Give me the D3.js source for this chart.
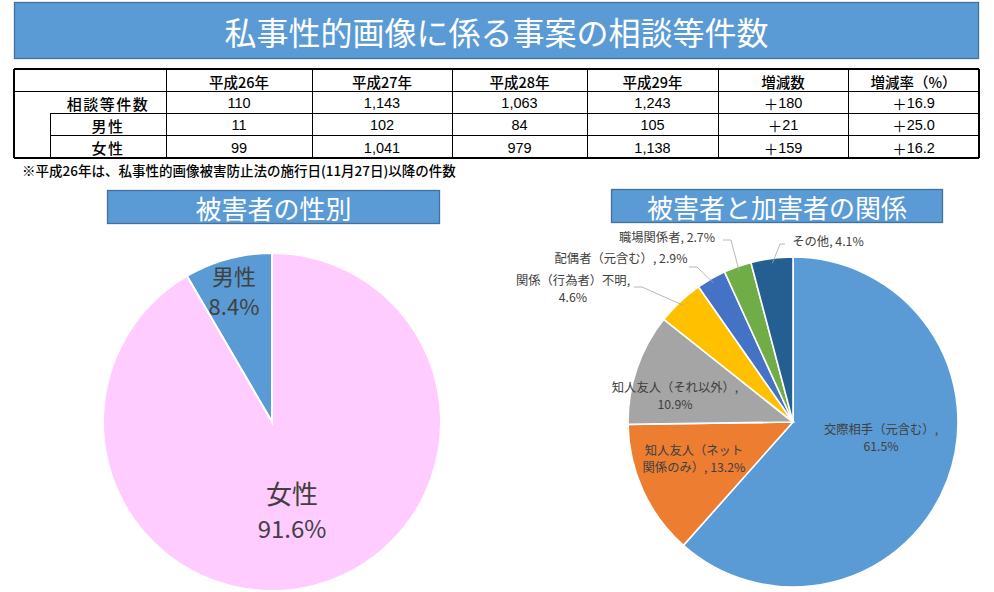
<!DOCTYPE html>
<html><head><meta charset="utf-8">
<script src="https://cdn.jsdelivr.net/npm/d3@7"></script>
<style>
body{margin:0;background:#fff;}
svg text{font-family:"Noto Sans CJK JP","Noto Sans",sans-serif;}
</style></head>
<body>
<svg id="chart" width="994" height="592"></svg>
<script>
// ---- data ----
const years = ["平成26年","平成27年","平成28年","平成29年"];
const extraHeaders = ["増減数","増減率（%）"];
const rowLabels = ["相談等件数","男性","女性"];
const totalCounts = [110,1143,1063,1243];
const maleCounts = [11,102,84,105];
const femaleCounts = [99,1041,979,1138];
const changeCounts = ["＋180","＋21","＋159"];
const changeRates = ["＋16.9","＋25.0","＋16.2"];

const genderCats = ["男性","女性"];
const genderVals = [8.4, 91.6];

const relCats = ["交際相手（元含む）","知人友人（ネット関係のみ）","知人友人（それ以外）","関係（行為者）不明","配偶者（元含む）","職場関係者","その他"];
const relVals = [61.5, 13.2, 10.9, 4.6, 2.9, 2.7, 4.1];

const svg = d3.select("#chart");
const fmt = d3.format(",");

// ---- banners ----
function banner(x, y, w, h, text, size){
  svg.append("rect").attr("x",x).attr("y",y).attr("width",w).attr("height",h)
    .attr("fill","#5B9BD5").attr("stroke","#41719C").attr("stroke-width",1.3);
  svg.append("text").attr("x",x+w/2).attr("y",y+h/2).attr("text-anchor","middle")
    .attr("dominant-baseline","central").attr("fill","#fff").attr("font-size",size).text(text);
}
banner(14.5, 2.5, 964, 56, "私事性的画像に係る事案の相談等件数", 32);
banner(107.5, 190.5, 332, 33, "被害者の性別", 26);
banner(611.5, 189.5, 331, 33, "被害者と加害者の関係", 26);

// ---- table ----
const colX = [14, 166, 312, 452, 587, 718, 848, 979];
const rowY = [69, 91, 113, 135, 158];
const subX = 50;
const tg = svg.append("g");
const line = (x1,y1,x2,y2,w)=>tg.append("line").attr("x1",x1).attr("y1",y1).attr("x2",x2).attr("y2",y2)
   .attr("stroke","#000").attr("stroke-width",w||1).attr("shape-rendering","crispEdges");
line(colX[0],rowY[0],colX[7],rowY[0],1.2);
line(colX[0],rowY[1],colX[7],rowY[1]);
line(subX,rowY[2],colX[7],rowY[2]);
line(subX,rowY[3],colX[7],rowY[3]);
line(colX[0],rowY[4],colX[7],rowY[4],1.5);
line(colX[0],rowY[0],colX[0],rowY[4],1.2);
line(subX,rowY[2],subX,rowY[4]);
colX.slice(1).forEach((x,i)=>line(x,rowY[0],x,rowY[4], i===6?1.5:1));

const headers = years.concat(extraHeaders);
headers.forEach((h,i)=>{
  tg.append("text").attr("x",(colX[i+1]+colX[i+2])/2).attr("y",(rowY[0]+rowY[1])/2+1)
    .attr("text-anchor","middle").attr("dominant-baseline","central")
    .attr("font-size",14.5).attr("font-weight",500).attr("fill","#000").text(h);
});
const rows = [totalCounts, maleCounts, femaleCounts];
rows.forEach((vals,r)=>{
  const cy = (rowY[r+1]+rowY[r+2])/2+1;
  tg.append("text").attr("x",(subX+colX[1])/2).attr("y",cy).attr("text-anchor","middle")
    .attr("dominant-baseline","central").attr("font-size",15).attr("font-weight",500)
    .attr("letter-spacing",1.5).text(rowLabels[r]);
  const cells = vals.map(v=>fmt(v)).concat([changeCounts[r], changeRates[r]]);
  cells.forEach((c,i)=>{
    const t = tg.append("text").attr("x",(colX[i+1]+colX[i+2])/2).attr("y",cy)
      .attr("text-anchor","middle").attr("dominant-baseline","central")
      .attr("font-size",14.5);
    if(c.startsWith("＋")){
      t.append("tspan").style("font-family","'Noto Sans CJK JP',sans-serif").text("＋");
      t.append("tspan").style("font-family","'Liberation Sans',Arial,sans-serif").text(c.slice(1));
    } else {
      t.style("font-family","'Liberation Sans',Arial,sans-serif").text(c);
    }
  });
});
svg.append("text").attr("x",22).attr("y",170).attr("dominant-baseline","central")
  .attr("font-size",13.5).attr("font-weight",500).attr("fill","#000")
  .text("※平成26年は、私事性的画像被害防止法の施行日(11月27日)以降の件数");

// ---- gender pie ----
const gCx = 272, gCy = 422, gR = 169;
const gColors = d3.scaleOrdinal().domain(genderCats).range(["#5B9BD5","#FFCCFF"]);
const gPie = d3.pie().sort(null).value(d=>d.v)
  .startAngle(-2*Math.PI*genderVals[0]/100).endAngle(2*Math.PI - 2*Math.PI*genderVals[0]/100);
const gData = gPie(genderCats.map((c,i)=>({c, v:genderVals[i]})));
const gArc = d3.arc().innerRadius(0).outerRadius(gR);
const gG = svg.append("g").attr("transform",`translate(${gCx},${gCy})`);
gG.selectAll("path").data(gData).join("path").attr("d",gArc)
  .attr("fill",d=>gColors(d.data.c)).attr("stroke","#fff").attr("stroke-width",2);
const gLabelPos = [{dx:-38, dy:-147, s:22, s2:22}, {dx:20, dy:70, s:26, s2:24}];
gData.forEach((d,i)=>{
  const p = gLabelPos[i];
  gG.append("text").attr("x",p.dx).attr("y",p.dy).attr("text-anchor","middle")
    .attr("dominant-baseline","central").attr("font-size",p.s).attr("fill","#404040").text(d.data.c);
  gG.append("text").attr("x",p.dx).attr("y",p.dy+(i?35:30)).attr("text-anchor","middle")
    .attr("dominant-baseline","central").attr("font-size",p.s2).attr("fill","#404040")
    .text(d.data.v.toFixed(1)+"%");
});

// ---- relationship pie ----
const rCx = 793, rCy = 422, rR = 165;
const rColors = d3.scaleOrdinal().domain(relCats)
  .range(["#5B9BD5","#ED7D31","#A5A5A5","#FFC000","#4472C4","#70AD47","#255E91"]);
const rPie = d3.pie().sort(null).value(d=>d.v);
const rData = rPie(relCats.map((c,i)=>({c, v:relVals[i]})));
const rArc = d3.arc().innerRadius(0).outerRadius(rR);
const rG = svg.append("g").attr("transform",`translate(${rCx},${rCy})`);
rG.selectAll("path").data(rData).join("path").attr("d",rArc)
  .attr("fill",d=>rColors(d.data.c)).attr("stroke","#fff").attr("stroke-width",1.6);

const relLabels = [
  {lines:["交際相手（元含む）,","61.5%"], x:88, y:7, anchor:"middle"},
  {lines:["知人友人（ネット","関係のみ）, 13.2%"], x:-99, y:28, anchor:"middle"},
  {lines:["知人友人（それ以外）,","10.9%"], x:-118, y:-35, anchor:"middle"},
  {lines:["関係（行為者）不明,","4.6%"], x:-220, y:-142, anchor:"middle", lead:[-159,-135]},
  {lines:["配偶者（元含む）, 2.9%"], x:-172, y:-164, anchor:"middle", lead:[-104,-155]},
  {lines:["職場関係者, 2.7%"], x:-126, y:-185, anchor:"middle", lead:[-70,-182]},
  {lines:["その他, 4.1%"], x:35, y:-181, anchor:"middle", lead:[-8,-178]}
];
rData.forEach((d,i)=>{
  const L = relLabels[i];
  if(L.lead){
    const mid = (d.startAngle+d.endAngle)/2;
    const ex = Math.sin(mid)*rR*0.97, ey = -Math.cos(mid)*rR*0.97;
    rG.append("polyline").attr("points",`${L.lead[0]},${L.lead[1]} ${L.lead[0]+ (i===6?-5:8)},${L.lead[1]} ${ex},${ey}`)
      .attr("fill","none").attr("stroke","#A6A6A6").attr("stroke-width",0.8);
  }
  L.lines.forEach((t,j)=>{
    rG.append("text").attr("x",L.x).attr("y",L.y+j*17).attr("text-anchor",L.anchor)
      .attr("dominant-baseline","central").attr("font-size",12.3).attr("fill","#404040").text(t);
  });
});
</script>
</body></html>
